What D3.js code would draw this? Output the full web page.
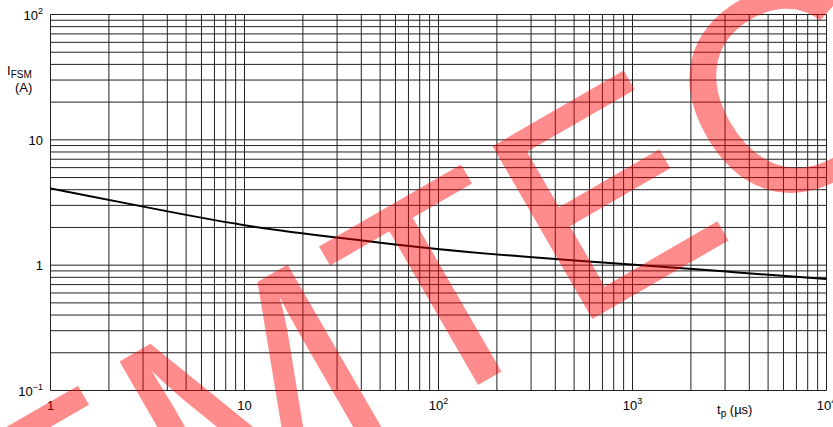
<!DOCTYPE html>
<html><head><meta charset="utf-8">
<script src="https://cdn.jsdelivr.net/npm/d3@7"></script>
<style>html,body{margin:0;padding:0;background:#fff;}svg{display:block;}</style>
</head><body>
<svg id="c" width="833" height="427"></svg>
<script>
// ---- data ----
const tp   = [1, 3, 10, 30, 100, 300, 1000, 3000, 10000];
const ifsm = [4.1, 2.93, 2.04, 1.66, 1.33, 1.155, 1.01, 0.89, 0.775];
const xTicks = [1, 10, 100, 1000, 10000];
const xTickBase = ["1", "10", "10", "10", "10"];
const xTickExp  = ["", "", "2", "3", "4"];
const yTicks = [0.1, 1, 10, 100];
const yTickBase = ["10", "1", "10", "10"];
const yTickExp  = ["\u22121", "", "", "2"];
const watermark = "EMTEC";

const svg = d3.select("#c");
const font = "'Liberation Sans', Arial, Helvetica, sans-serif";
const x = d3.scaleLog().domain([1, 1e4]).range([50.5, 826.5]);
const y = d3.scaleLog().domain([0.1, 100]).range([390.5, 14.5]);

// grid values (1..9 per decade)
function gridVals(lo, hi) {
  const v = [];
  for (let d = lo; d < hi; d *= 10) for (let k = 1; k < 10; k++) v.push(d * k);
  v.push(hi);
  return v;
}
const g = svg.append("g");
g.selectAll("line.v").data(gridVals(1, 1e4)).join("line")
  .attr("x1", d => x(d)).attr("x2", d => x(d))
  .attr("y1", y(100)).attr("y2", y(0.1))
  .attr("stroke", "#222").attr("stroke-width", 1);
g.selectAll("line.h").data(gridVals(0.1, 100)).join("line")
  .attr("y1", d => y(d)).attr("y2", d => y(d))
  .attr("x1", x(1)).attr("x2", x(1e4))
  .attr("stroke", "#222").attr("stroke-width", 1);

// curve
const line = d3.line().x(d => x(d[0])).y(d => y(d[1])).curve(d3.curveBasis);
svg.append("path").datum(tp.map((t, i) => [t, ifsm[i]]))
  .attr("d", line).attr("fill", "none").attr("stroke", "#000").attr("stroke-width", 2);

// y labels
yTicks.forEach((v, i) => {
  const t = svg.append("text").attr("x", 43).attr("y", y(v) + 5)
    .attr("text-anchor", "end").attr("font-family", font).attr("font-size", 13).attr("fill", "#000");
  t.append("tspan").text(yTickBase[i]);
  if (yTickExp[i]) t.append("tspan").attr("dy", -6).attr("font-size", 9).text(yTickExp[i]);
});
// x labels
xTicks.forEach((v, i) => {
  const t = svg.append("text").attr("x", x(v)).attr("y", 410)
    .attr("text-anchor", "middle").attr("font-family", font).attr("font-size", 13).attr("fill", "#000");
  t.append("tspan").text(xTickBase[i]);
  if (xTickExp[i]) t.append("tspan").attr("dy", -6).attr("font-size", 9).text(xTickExp[i]);
});

// axis titles
const yt = svg.append("text").attr("x", 7).attr("y", 75).attr("font-family", font).attr("font-size", 13);
yt.append("tspan").text("I");
yt.append("tspan").attr("dy", 3).attr("font-size", 10).text("FSM");
svg.append("text").attr("x", 15).attr("y", 92).attr("font-family", font).attr("font-size", 13).text("(A)");
const xt = svg.append("text").attr("x", 717).attr("y", 414).attr("font-family", font).attr("font-size", 13);
xt.append("tspan").text("t");
xt.append("tspan").attr("dy", 3).attr("font-size", 10).text("p");
xt.append("tspan").attr("dy", -3).text(" (\u00b5s)");

// watermark
svg.append("text").attr("transform", "translate(26,646) rotate(-30)")
  .attr("font-family", font).attr("font-size", 290).attr("letter-spacing", 6)
  .attr("fill", "rgb(255,0,0)").attr("fill-opacity", 0.45).text(watermark);
</script>
</body></html>
